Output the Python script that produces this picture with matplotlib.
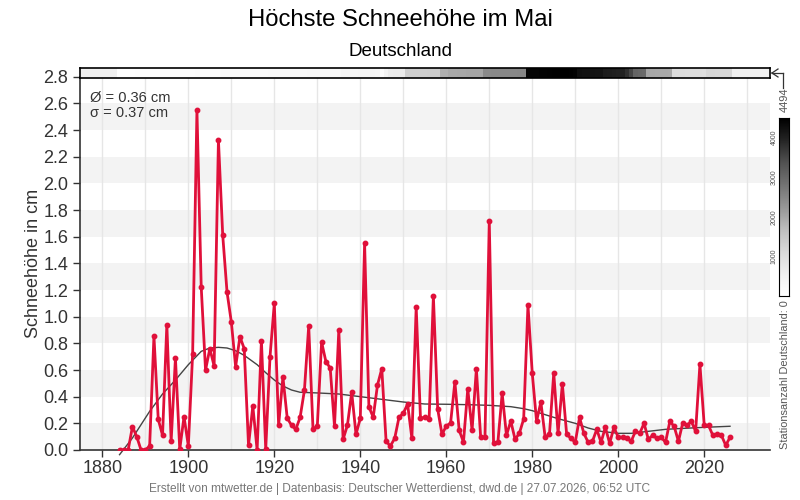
#!/usr/bin/env python
# -*- encoding: utf-8 -*-
import numpy as np
import matplotlib
matplotlib.use('Agg')
import matplotlib.pyplot as plt
from matplotlib.lines import Line2D

plt.rcParams['font.family'] = ['Liberation Sans', 'DejaVu Sans']

TITLE = "Höchste Schneehöhe im Mai"
SUBTITLE = "Deutschland"
FOOTER = "Erstellt von mtwetter.de | Datenbasis: Deutscher Wetterdienst, dwd.de | 27.07.2026, 06:52 UTC"
MEAN_TXT = "Ø = 0.36 cm"
STD_TXT = "σ = 0.37 cm"

# maximum snow depth in May, cm, 1884..2026
YEARS = list(range(1884, 2027))
SNOW = [
    0.0, 0.0, 0.0, 0.175, 0.1, 0.0, 0.0, 0.03, 0.855, 0.23,           # 1884-1893
    0.11, 0.94, 0.065, 0.69, 0.005, 0.25, 0.03, 0.72, 2.55, 1.22,     # 1894-1903
    0.6, 0.76, 0.63, 2.325, 1.61, 1.185, 0.96, 0.625, 0.85, 0.76,     # 1904-1913
    0.035, 0.33, 0.0, 0.82, 0.005, 0.70, 1.10, 0.185, 0.5475, 0.24,   # 1914-1923
    0.185, 0.155, 0.245, 0.4475, 0.93, 0.155, 0.18, 0.81, 0.6625, 0.615,  # 1924-1933
    0.1775, 0.90, 0.08, 0.185, 0.4325, 0.1175, 0.2375, 1.55, 0.325, 0.245,  # 1934-1943
    0.4875, 0.61, 0.065, 0.03, 0.0875, 0.245, 0.275, 0.345, 0.0875, 1.0725,  # 1944-1953
    0.2375, 0.245, 0.23, 1.155, 0.3075, 0.1175, 0.18, 0.2025, 0.51, 0.1475,  # 1954-1963
    0.06, 0.4575, 0.1475, 0.6075, 0.095, 0.095, 1.7175, 0.05, 0.0575, 0.425,  # 1964-1973
    0.11, 0.2175, 0.08, 0.125, 0.2325, 1.0875, 0.575, 0.215, 0.36, 0.095,  # 1974-1983
    0.1175, 0.5775, 0.125, 0.495, 0.1175, 0.0875, 0.0575, 0.245, 0.125, 0.0575,  # 1984-1993
    0.065, 0.155, 0.0575, 0.17, 0.05, 0.17, 0.095, 0.095, 0.0875, 0.065,  # 1994-2003
    0.14, 0.125, 0.2, 0.08, 0.11, 0.0875, 0.095, 0.0575, 0.215, 0.1775,  # 2004-2013
    0.065, 0.2025, 0.185, 0.215, 0.14, 0.6425, 0.185, 0.185, 0.11, 0.1175,  # 2014-2023
    0.11, 0.035, 0.095,                                                # 2024-2026
]

# smoothed trend
TREND_YEARS = [1884, 1887, 1891, 1894, 1897, 1900, 1903, 1905, 1907, 1909,
               1911, 1913, 1916, 1918, 1920, 1922, 1924, 1926, 1930, 1935,
               1940, 1945, 1950, 1955, 1960, 1965, 1970, 1975, 1978, 1980,
               1983, 1986, 1990, 1993, 1996, 2000, 2003, 2007, 2011, 2015,
               2020, 2026]
TREND = [-0.035, 0.09, 0.29, 0.42, 0.525, 0.64, 0.74, 0.765, 0.77, 0.765,
         0.745, 0.71, 0.64, 0.58, 0.525, 0.48, 0.45, 0.433, 0.428, 0.42,
         0.40, 0.38, 0.36, 0.345, 0.343, 0.34, 0.335, 0.325, 0.31, 0.295,
         0.265, 0.235, 0.2, 0.165, 0.14, 0.125, 0.125, 0.14, 0.155, 0.162,
         0.17, 0.178]

# number of stations per year (grey strip on top)
STATIONS = [
    60, 60, 70, 70, 80, 80, 90, 90, 100, 100, 110, 110, 120, 120, 130, 130,   # 1884-1899
    140, 140, 150, 150, 160, 160, 170, 170, 180, 180,                          # 1900-1909
    190, 190, 190, 200, 200, 200, 210, 210, 210, 220,                          # 1910-1919
    220, 220, 230, 230, 230, 240, 240, 240, 250, 250,                          # 1920-1929
    260, 260, 270, 270, 280, 280, 380, 390, 400, 400,                          # 1930-1939
    410, 410, 420, 420, 400, 150, 450, 680, 690, 700,                          # 1940-1949
    700, 1330, 1340, 1340, 1350, 1350, 1360, 1360, 1360, 1880,                 # 1950-1959
    1890, 2000, 2000, 2010, 2010, 2020, 2020, 2030, 2030, 2430,                # 1960-1969
    2440, 2450, 2450, 2460, 2460, 2470, 2470, 2480, 2480, 4400,                # 1970-1979
    4410, 4420, 4430, 4440, 4450, 4460, 4470, 4480, 4494, 4470,                # 1980-1989
    4440, 4250, 4230, 4220, 4200, 4190, 4180, 4060, 4040, 4020,                # 1990-1999
    4000, 3980, 3780, 3500, 3050, 3000, 2950, 2020, 2010, 2000,                # 2000-2009
    2000, 1990, 1980, 1050, 1040, 1040, 1030, 1030, 1020, 1020,                # 2010-2019
    1010, 1180, 1180, 1170, 1170, 1160, 1160,                                  # 2020-2026
]
STATIONS_MAX = 4494

XLIM = (1874.8, 2035.3)
YLIM = (0.0, 2.8)


def plot_snow():
    fig = plt.figure(figsize=(8, 5), dpi=100)
    W, H = 800., 500.

    # main axes: x 80..770 px, y 77..450 px
    ax = fig.add_axes([80 / W, 50 / H, 690 / W, 373.3 / H])
    ax.set_xlim(*XLIM)
    ax.set_ylim(*YLIM)

    for lo in np.arange(0.0, 2.6, 0.4):
        ax.axhspan(lo, lo + 0.2, color='#f3f3f3', lw=0, zorder=0)

    ax.set_xticks(np.arange(1880, 2030, 20))
    ax.set_xticks(np.arange(1880, 2035, 10), minor=True)
    ax.xaxis.grid(True, which='both', color='#e6e6e6', lw=1, zorder=0.5)
    ax.set_axisbelow(True)
    ax.set_yticks(np.arange(0.0, 2.81, 0.2))
    ax.set_yticklabels(["%.1f" % v for v in np.arange(0.0, 2.81, 0.2)])
    ax.tick_params(axis='both', labelsize=13, colors='#333333', length=5, width=1)
    ax.tick_params(axis='x', which='minor', length=0)
    ax.tick_params(axis='x', pad=2)
    for s in ['top', 'right']:
        ax.spines[s].set_visible(False)
    for s in ['left', 'bottom']:
        ax.spines[s].set_color('#333333')
        ax.spines[s].set_linewidth(1.2)

    ax.plot(TREND_YEARS, TREND, color='#444444', lw=1, zorder=2, clip_on=False)
    ax.plot(YEARS, SNOW, color='#e0103a', lw=2, marker='o', ms=3.2, zorder=3)

    ax.set_ylabel("Schneehöhe in cm", fontsize=13, color='#333333', labelpad=1)
    ax.text(0.014, 0.962, MEAN_TXT, transform=ax.transAxes, fontsize=10.5,
            color='#333333', va='top', ha='left')
    ax.text(0.014, 0.922, STD_TXT, transform=ax.transAxes, fontsize=10.5,
            color='#333333', va='top', ha='left')

    # station count strip
    sx = fig.add_axes([80 / W, (H - 77.5) / H, 690 / W, 9.5 / H])
    sx.set_facecolor('#f0f0f0')
    edges = np.append(np.array(YEARS) - 0.5, YEARS[-1] + 0.5)
    sx.pcolormesh(edges, [0, 1], np.array([STATIONS]), cmap='Greys',
                  vmin=0, vmax=STATIONS_MAX, shading='flat')
    sx.set_xlim(*XLIM)
    sx.set_ylim(0, 1)
    sx.set_xticks([])
    sx.set_yticks([])
    for s in sx.spines.values():
        s.set_color('black')
        s.set_linewidth(1.2)

    # colour bar on the right
    cx = fig.add_axes([779 / W, (H - 296) / H, 10 / W, 178 / H])
    grad = np.linspace(0, STATIONS_MAX, 256).reshape(-1, 1)
    cx.imshow(grad, cmap='Greys', vmin=0, vmax=STATIONS_MAX, aspect='auto',
              origin='lower', extent=[0, 1, 0, STATIONS_MAX])
    cx.set_xticks([])
    cx.set_yticks([1000, 2000, 3000, 4000])
    cx.set_yticklabels(['1000', '2000', '3000', '4000'], rotation=90, va='center')
    cx.tick_params(axis='y', labelsize=5, colors='#555555', length=0, pad=1)
    for s in cx.spines.values():
        s.set_color('black')
        s.set_linewidth(0.8)

    fig.text(785 / W, 1 - 100 / H, str(STATIONS_MAX), rotation=90, fontsize=8,
             color='#555555', ha='center', va='center')
    fig.text(785 / W, 1 - 300 / H, "Stationsanzahl Deutschland: 0", rotation=90,
             fontsize=7.9, color='#555555', ha='center', va='top')

    # bracket from strip to colour bar label
    px = lambda x, y: (x / W, 1 - y / H)
    for (x0, y0), (x1, y1) in [((778, 69), (772, 73)), ((772, 73), (778, 77)),
                               ((772, 73), (783, 73)), ((783, 73), (783, 88))]:
        a, b = px(x0, y0), px(x1, y1)
        fig.add_artist(Line2D([a[0], b[0]], [a[1], b[1]], color='#333333', lw=0.9))

    fig.text(0.5, 1 - 20 / H, TITLE, fontsize=17.2, ha='center', va='center', color='black')
    fig.text(0.5, 1 - 51.5 / H, SUBTITLE, fontsize=13.5, ha='center', va='center', color='black')
    fig.text(0.5, 1 - 489 / H, FOOTER, fontsize=8.6, ha='center', va='center', color='#777777')
    return fig


def main():
    fig = plot_snow()
    fig.savefig('out.png', dpi=100)


if __name__ == "__main__":
    main()
